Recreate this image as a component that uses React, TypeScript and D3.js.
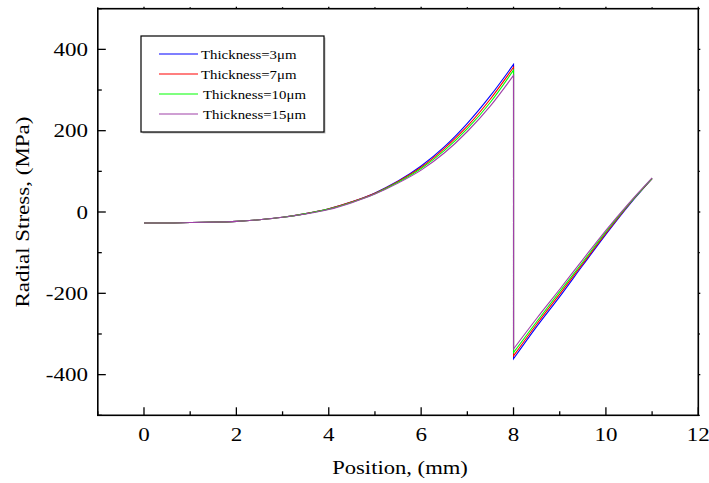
import React from "react";
import * as d3 from "d3";

// Sample positions (mm) on either side of the interface at 8 mm
const innerPositions = [0, 0.5, 1, 1.5, 2, 2.5, 3, 3.5, 4, 4.5, 5, 5.5, 6, 6.5, 7, 7.5, 8];
const outerPositions = [8, 8.5, 9, 9.5, 10, 10.5, 11];

const seriesNames = ["Thickness=3μm", "Thickness=7μm", "Thickness=10μm", "Thickness=15μm"];
const seriesColors = ["#0000ff", "#ff0000", "#00ff00", "#a040a8"];

// Radial stress (MPa) for each coating thickness
const innerStress = [
  [-27, -27, -26, -25, -23, -19, -13, -4, 8, 25, 47, 76, 113, 160, 218, 286, 363],
  [-27, -27, -26, -25, -23, -19, -13, -4, 8, 25, 46, 75, 110, 156, 211, 278, 356],
  [-27, -27, -26, -25, -23, -19, -13, -4, 7, 24, 45, 73, 107, 151, 205, 270, 349],
  [-27, -27, -26, -25, -23, -19, -13, -5, 6, 23, 44, 71, 103, 145, 198, 261, 336],
];
const outerStress = [
  [-361, -282, -208, -131, -55, 17, 82],
  [-354, -276, -202, -127, -52, 19, 82],
  [-346, -270, -196, -123, -49, 20, 83],
  [-337, -262, -190, -117, -45, 22, 84],
];

const xMajorTicks = [0, 2, 4, 6, 8, 10, 12];
const xMinorTicks = [-1, 1, 3, 5, 7, 9, 11];
const yMajorTicks = [-400, -200, 0, 200, 400];
const yMinorTicks = [-500, -300, -100, 100, 300, 500];

const W = 709;
const H = 483;
const FONT = "'Liberation Serif', 'Times New Roman', serif";

// Text drawn with a slightly wider set width than the base serif face
function Label(props: {
  x: number;
  y: number;
  size: number;
  stretch: number;
  anchor?: "start" | "middle" | "end";
  rotate?: number;
  children: React.ReactNode;
}) {
  const { x, y, size, stretch, anchor = "start", rotate = 0, children } = props;
  return (
    <g transform={`translate(${x},${y}) rotate(${rotate}) scale(${stretch},1)`}>
      <text x={0} y={0} textAnchor={anchor} fontSize={size} fill="#000">
        {children}
      </text>
    </g>
  );
}

export default function App() {
  const x = d3.scaleLinear().domain([-1, 12]).range([97.8, 698.3]);
  const y = d3.scaleLinear().domain([-500, 500]).range([415.3, 8.7]);
  const [x0, x1] = x.range();
  const [y0, y1] = y.range();

  const line = d3
    .line<[number, number]>()
    .x((d) => x(d[0]))
    .y((d) => y(d[1]))
    .curve(d3.curveMonotoneX);

  const paths = innerStress.map((inner, i) => {
    const a = line(innerPositions.map((p, k) => [p, inner[k]] as [number, number])) || "";
    const b = line(outerPositions.map((p, k) => [p, outerStress[i][k]] as [number, number])) || "";
    return a + b.replace(/^M/, "L");
  });

  const legendX = 141;
  const legendY = 36;
  const rowGap = 20;

  return (
    <svg
      width={W}
      height={H}
      style={{ position: "absolute", left: 0, top: 0, background: "#fff" }}
      fontFamily={FONT}
    >
      <rect x={0} y={0} width={W} height={H} fill="#fff" />

      {/* curves */}
      {paths.map((d, i) => (
        <path key={i} d={d} fill="none" stroke={seriesColors[i]} strokeWidth={1.1} />
      ))}

      {/* frame */}
      <rect x={x0} y={y1} width={x1 - x0} height={y0 - y1} fill="none" stroke="#000" strokeWidth={1.6} />

      {/* bottom axis ticks and labels */}
      {xMajorTicks.map((t) => (
        <g key={"xm" + t}>
          <line x1={x(t)} x2={x(t)} y1={y0} y2={y0 - 8} stroke="#000" strokeWidth={1.3} />
          <line x1={x(t)} x2={x(t)} y1={y1} y2={y1 - 2} stroke="#000" strokeWidth={1.3} />
          <Label x={x(t)} y={441} size={19.5} stretch={1.18} anchor="middle">
            {t}
          </Label>
        </g>
      ))}
      {xMinorTicks.map((t) => (
        <g key={"xn" + t}>
          <line x1={x(t)} x2={x(t)} y1={y0} y2={y0 - 4} stroke="#000" strokeWidth={1.3} />
          <line x1={x(t)} x2={x(t)} y1={y1} y2={y1 - 1.5} stroke="#000" strokeWidth={1.3} />
        </g>
      ))}

      {/* left axis ticks and labels */}
      {yMajorTicks.map((t) => (
        <g key={"ym" + t}>
          <line x1={x0} x2={x0 + 8} y1={y(t)} y2={y(t)} stroke="#000" strokeWidth={1.3} />
          <line x1={x1} x2={x1 + 2} y1={y(t)} y2={y(t)} stroke="#000" strokeWidth={1.3} />
          <Label x={88} y={y(t) + 6.5} size={19.5} stretch={1.18} anchor="end">
            {t}
          </Label>
        </g>
      ))}
      {yMinorTicks.map((t) => (
        <g key={"yn" + t}>
          <line x1={x0} x2={x0 + 4} y1={y(t)} y2={y(t)} stroke="#000" strokeWidth={1.3} />
          <line x1={x1} x2={x1 + 1.5} y1={y(t)} y2={y(t)} stroke="#000" strokeWidth={1.3} />
        </g>
      ))}

      {/* axis titles */}
      <Label x={400} y={474} size={19.5} stretch={1.16} anchor="middle">
        Position, (mm)
      </Label>
      <Label x={29} y={212} size={19.5} stretch={1.18} anchor="middle" rotate={-90}>
        Radial Stress, (MPa)
      </Label>

      {/* legend */}
      <rect x={legendX + 1.5} y={legendY + 1.5} width={183} height={96} fill="#bbb" />
      <rect x={legendX} y={legendY} width={183} height={96} fill="#fff" stroke="#000" strokeWidth={1.2} />
      {seriesNames.map((name, i) => (
        <g key={name}>
          <line
            x1={159}
            x2={198}
            y1={legendY + 18 + i * rowGap}
            y2={legendY + 18 + i * rowGap}
            stroke={seriesColors[i]}
            strokeWidth={1.2}
          />
          <Label x={i < 2 ? 201 : 203} y={legendY + 18 + i * rowGap + 4.5} size={13.5} stretch={1.1}>
            {name}
          </Label>
        </g>
      ))}
    </svg>
  );
}
